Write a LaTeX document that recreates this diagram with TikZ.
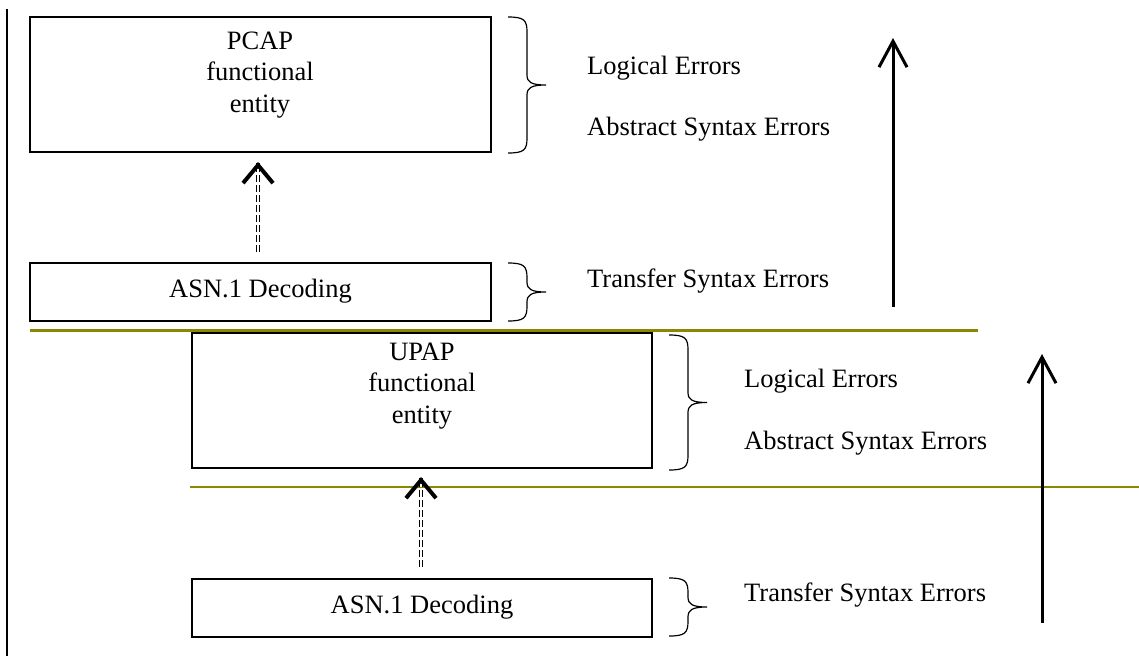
\documentclass[tikz,border=0pt]{standalone}
\usepackage{fontspec}
\setmainfont{Liberation Serif}
\usetikzlibrary{arrows.meta}
\newcommand\rbr[3]{%
  \pgfmathsetmacro\bm{(#2+#3)/2}%
  \draw[brc] (#1,#2) .. controls (#1+16,#2) and (#1+19,#2+3) .. (#1+19,#2+15)
    -- (#1+19,\bm-10) .. controls (#1+19,\bm-3) and (#1+23,\bm) .. (#1+38,\bm)
    .. controls (#1+23,\bm) and (#1+19,\bm+3) .. (#1+19,\bm+10)
    -- (#1+19,#3-15) .. controls (#1+19,#3-3) and (#1+16,#3) .. (#1,#3);}
\begin{document}
\begin{tikzpicture}[x=1pt,y=-1pt,
  box/.style={draw, line width=1.3pt, inner sep=0pt},
  txt/.style={font=\rmfamily\fontsize{26.5}{31.5}\selectfont, inner sep=0pt},
  lbl/.style={txt, anchor=west},
  brc/.style={line width=1.2pt},
  bigarrow/.style={line width=3pt, -{Straight Barb[length=26pt,width=28pt]}},
  dshaft/.style={double, double distance=2pt, line width=1pt, dash pattern=on 7pt off 3pt},
  dhead/.style={line width=4pt, -{Straight Barb[length=18pt,width=30pt]}},
  sep/.style={draw=olive},
]
\useasboundingbox (0,0) rectangle (1139,656);
% left margin line
\coordinate (lt) at (7,9);
\coordinate (lb) at (7,656);
\draw[line width=2pt] (lt) -- (lb);

% boxes
\node[box, minimum width=461pt, minimum height=135pt] (pcap) at (260.5,84.5) {};
\node[txt, align=center] (pcapt) at (260,75) {PCAP\\functional\\entity};
\node[box, minimum width=461pt, minimum height=58pt] (asn1) at (260.5,292) {};
\node[txt] (asn1t) at (260.5,291) {ASN.1 Decoding};
\node[box, minimum width=460pt, minimum height=135pt] (upap) at (422,400.5) {};
\node[txt, align=center] (upapt) at (422,386) {UPAP\\functional\\entity};
\node[box, minimum width=460pt, minimum height=58pt] (asn2) at (422,608) {};
\node[txt] (asn2t) at (422,607) {ASN.1 Decoding};

% separators
\coordinate (s1a) at (30,330);
\coordinate (s1b) at (978,330);
\draw[sep, line width=3pt] (s1a) -- (s1b);
\coordinate (s2a) at (190,487);
\coordinate (s2b) at (1139,487);
\draw[sep, line width=2.2pt] (s2a) -- (s2b);

% braces
\rbr{508}{17}{153}
\rbr{508}{263}{321}
\rbr{669}{335}{470}
\rbr{669}{578}{636}

% labels
\node[lbl] (le1) at (587,68) {Logical Errors};
\node[lbl] (ae1) at (587,129) {Abstract Syntax Errors};
\node[lbl] (te1) at (587,281) {Transfer Syntax Errors};
\node[lbl] (le2) at (744,381) {Logical Errors};
\node[lbl] (ae2) at (744,443) {Abstract Syntax Errors};
\node[lbl] (te2) at (744,595) {Transfer Syntax Errors};

% dashed arrows
\coordinate (d1b) at (258,252);
\coordinate (d1t) at (258,162);
\draw[dshaft] (d1b) -- (d1t);
\draw[dhead] ([yshift=-1pt]d1t) -- (d1t);
\coordinate (d2b) at (421,567);
\coordinate (d2t) at (421,477);
\draw[dshaft] (d2b) -- (d2t);
\draw[dhead] ([yshift=-1pt]d2t) -- (d2t);

% big arrows
\coordinate (r1b) at (893,307);
\coordinate (r1t) at (893,38);
\draw[bigarrow] (r1b) -- (r1t);
\coordinate (r2b) at (1042,623);
\coordinate (r2t) at (1042,354);
\draw[bigarrow] (r2b) -- (r2t);
\end{tikzpicture}
\end{document}
